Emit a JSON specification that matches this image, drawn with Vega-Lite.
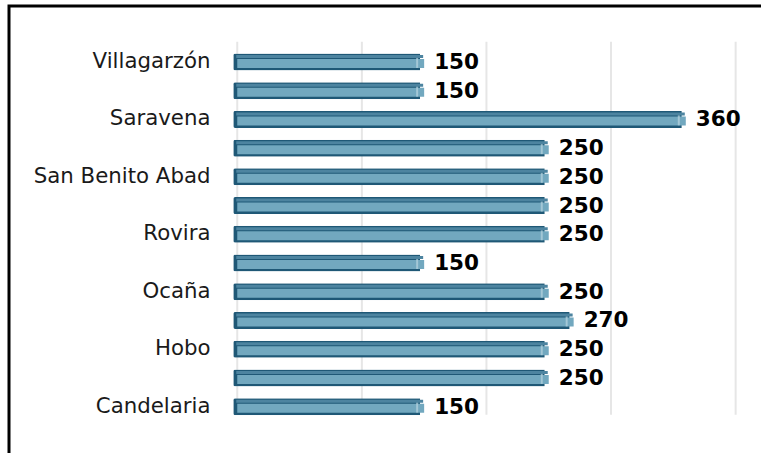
{
  "$schema": "https://vega.github.io/schema/vega-lite/v6.json",
  "autosize": "none",
  "width": 760,
  "height": 457,
  "padding": {"left": 9, "top": 6, "right": 0, "bottom": 0},
  "background": "white",
  "config": {
    "view": {"stroke": "black", "strokeWidth": 3},
    "font": "DejaVu Sans"
  },
  "datasets": {
    "bars": [
      {"municipio": "Villagarzón", "valor": 150},
      {"municipio": "Tumaco", "valor": 150},
      {"municipio": "Saravena", "valor": 360},
      {"municipio": "San Vicente del Caguán", "valor": 250},
      {"municipio": "San Benito Abad", "valor": 250},
      {"municipio": "Samaniego", "valor": 250},
      {"municipio": "Rovira", "valor": 250},
      {"municipio": "Puerto Asís", "valor": 150},
      {"municipio": "Ocaña", "valor": 250},
      {"municipio": "Mesetas", "valor": 270},
      {"municipio": "Hobo", "valor": 250},
      {"municipio": "El Tambo", "valor": 250},
      {"municipio": "Candelaria", "valor": 150}
    ],
    "grid": [{"g": 0}, {"g": 100}, {"g": 200}, {"g": 300}, {"g": 400}]
  },
  "layer": [
    {
      "data": {"name": "grid"},
      "mark": {"type": "rule", "color": "#e6e6e6", "strokeWidth": 2, "xOffset": 4, "yOffset": -13, "y2Offset": 1},
      "encoding": {
        "x": {"field": "g", "type": "quantitative", "scale": {"domain": [-180, 430], "nice": false, "zero": false}, "axis": null},
        "y": {"datum": "Villagarzón", "type": "nominal", "bandPosition": 0,
          "scale": {
            "domain": ["Villagarzón", "Tumaco", "Saravena", "San Vicente del Caguán", "San Benito Abad", "Samaniego", "Rovira", "Puerto Asís", "Ocaña", "Mesetas", "Hobo", "El Tambo", "Candelaria"],
            "range": [41.6, 415], "paddingInner": 0.5, "paddingOuter": 0.25
          },
          "axis": {
            "values": ["Villagarzón", "Saravena", "San Benito Abad", "Rovira", "Ocaña", "Hobo", "Candelaria"],
            "title": null, "ticks": false, "domain": false, "grid": false,
            "offset": -201, "labelPadding": 0,
            "labelFont": "DejaVu Sans", "labelFontSize": 21.3, "labelColor": "#1a1a1a"
          }
        },
        "y2": {"datum": "Candelaria", "bandPosition": 1}
      }
    },
    {
      "data": {"name": "bars"},
      "layer": [
        {
          "mark": {"type": "bar", "size": 17, "color": "#1f5876", "cornerRadiusTopLeft": 2, "cornerRadiusBottomLeft": 2}
        },
        {
          "mark": {"type": "bar", "size": 3, "color": "#4d84a0", "yOffset": -5.5, "xOffset": 3, "x2Offset": -2}
        },
        {
          "mark": {"type": "bar", "size": 9, "color": "#72a8bf", "yOffset": 1.5, "xOffset": 4, "x2Offset": -5}
        },
        {
          "mark": {"type": "tick", "orient": "vertical", "size": 10, "thickness": 2, "color": "#b8d4df", "xOffset": -3, "yOffset": 1}
        },
        {
          "mark": {"type": "text", "align": "left", "baseline": "middle", "dx": 14, "dy": 1, "fontSize": 21.5, "fontWeight": "bold", "color": "black"},
          "encoding": {"text": {"field": "valor", "type": "quantitative"}}
        }
      ],
      "encoding": {
        "y": {"field": "municipio", "type": "nominal", "sort": null},
        "x": {"field": "valor", "type": "quantitative"}
      }
    }
  ]
}
